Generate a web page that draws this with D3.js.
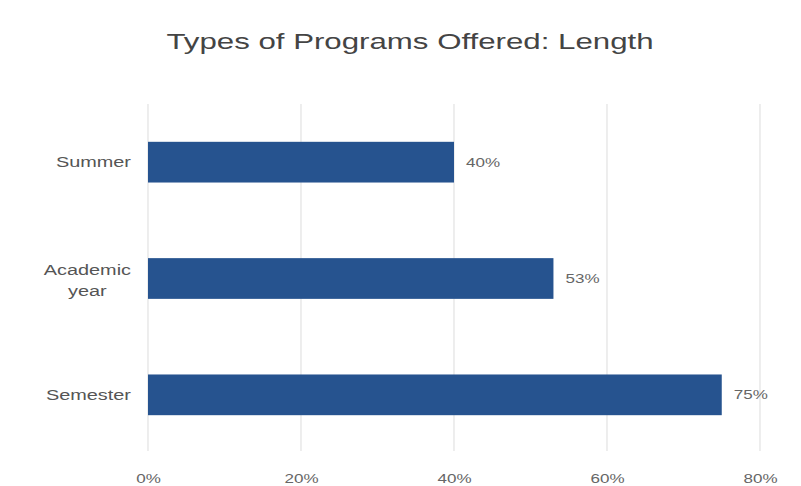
<!DOCTYPE html>
<html>
<head>
<meta charset="utf-8">
<script src="https://cdn.jsdelivr.net/npm/d3@7"></script>
<style>
  html, body { margin: 0; padding: 0; background: #fff; }
  svg { display: block; font-family: "Liberation Sans", Arial, sans-serif; }
</style>
</head>
<body>
<svg id="chart" width="801" height="486"></svg>
<script>
// Share of programs offered, by program length
const categories = ["Summer", "Academic year", "Semester"];
const categoryLines = [["Summer"], ["Academic", "year"], ["Semester"]];
const values = [40, 53, 75];
const valueLabels = ["40%", "53%", "75%"];
const tickValues = [0, 20, 40, 60, 80];
const tickLabels = ["0%", "20%", "40%", "60%", "80%"];
const titleText = "Types of Programs Offered: Length";

// Text in this chart is set wide
const stretch = 1.42;

const svg = d3.select("#chart");
const margin = { top: 104, right: 41, bottom: 33, left: 148 };
const width = 801, height = 486;
const innerW = width - margin.left - margin.right;
const innerH = height - margin.top - margin.bottom;

const x = d3.scaleLinear().domain([0, 80]).range([margin.left, margin.left + innerW]);
const y = d3.scaleBand().domain(categories)
  .range([margin.top, margin.top + innerH])
  .paddingInner(0.65).paddingOuter(0.325);

// Title
svg.append("text")
  .attr("transform", `translate(410,49) scale(${stretch},1)`)
  .attr("text-anchor", "middle")
  .attr("font-size", 22)
  .attr("fill", "#444")
  .text(titleText);

// Vertical gridlines
svg.append("g").selectAll("line")
  .data(tickValues)
  .join("line")
  .attr("x1", d => x(d)).attr("x2", d => x(d))
  .attr("y1", margin.top).attr("y2", margin.top + innerH - 2)
  .attr("stroke", "#e2e2e2")
  .attr("stroke-width", 1.2);

// Bottom axis labels
const xAxis = d3.axisBottom(x)
  .tickValues(tickValues)
  .tickFormat((d, i) => tickLabels[i])
  .tickSize(0)
  .tickPadding(0);
const axisG = svg.append("g")
  .attr("transform", `translate(0,${margin.top + innerH})`)
  .call(xAxis);
axisG.select(".domain").remove();
axisG.selectAll("text")
  .attr("y", 0)
  .attr("dy", null)
  .attr("transform", `translate(0,29.5) scale(${stretch},1)`)
  .attr("font-family", "Liberation Sans, Arial, sans-serif")
  .attr("font-size", 12)
  .attr("fill", "#666");

// Bars
svg.append("g").selectAll("rect")
  .data(categories)
  .join("rect")
  .attr("x", x(0))
  .attr("y", d => y(d))
  .attr("width", (d, i) => x(values[i]) - x(0))
  .attr("height", y.bandwidth())
  .attr("fill", "#26538f");

// Value labels at bar ends
svg.append("g").selectAll("text")
  .data(categories)
  .join("text")
  .attr("transform", (d, i) =>
    `translate(${x(values[i]) + 12},${y(d) + y.bandwidth() / 2 + 4.5}) scale(${stretch},1)`)
  .attr("font-size", 12)
  .attr("fill", "#666")
  .text((d, i) => valueLabels[i]);

// Category labels, right aligned; wrapped lines centred on each other
const labelRight = 131;
const lineH = 21;
categories.forEach((c, i) => {
  const lines = categoryLines[i];
  const cy = y(c) + y.bandwidth() / 2;
  const g = svg.append("g");
  const texts = lines.map((ln, j) => g.append("text")
    .attr("font-size", 14)
    .attr("fill", "#555")
    .attr("text-anchor", "middle")
    .text(ln));
  const widths = texts.map(t => t.node().getComputedTextLength() * stretch);
  const maxW = d3.max(widths);
  const cx = labelRight - maxW / 2;
  const shift = lines.length > 1 ? 2 : 0;
  texts.forEach((t, j) => {
    const by = cy + 5 + shift + (j - (lines.length - 1) / 2) * lineH;
    t.attr("transform", `translate(${cx},${by}) scale(${stretch},1)`);
  });
});
</script>
</body>
</html>
